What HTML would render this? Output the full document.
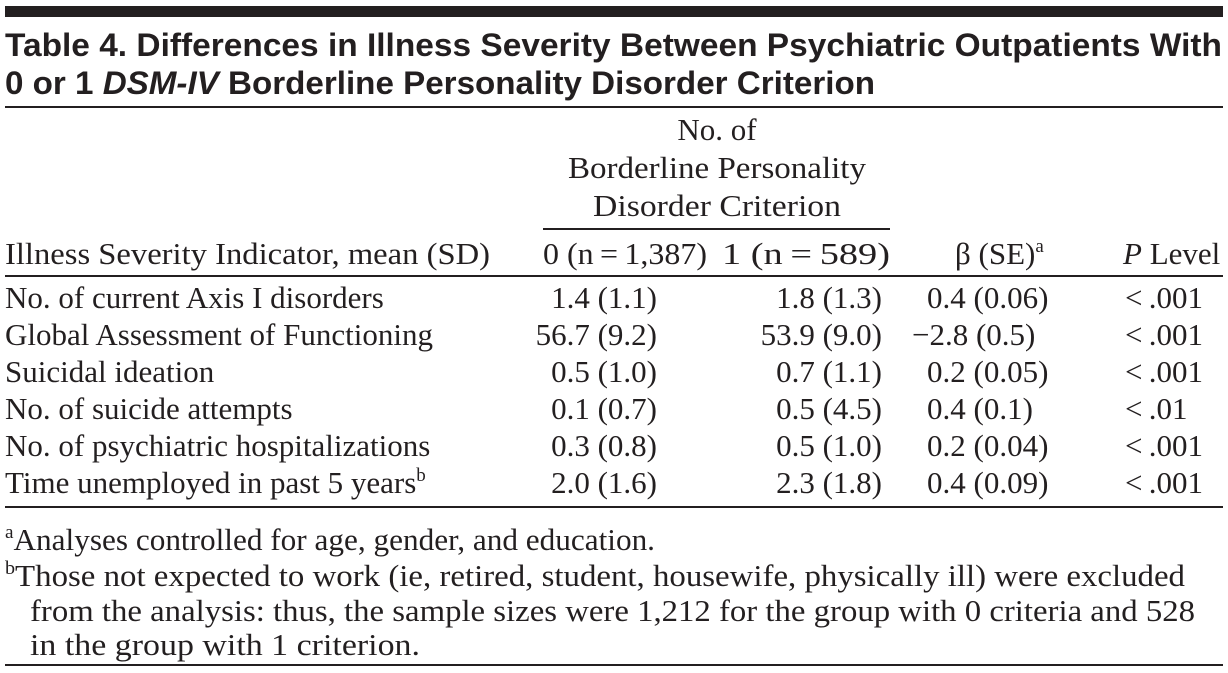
<!DOCTYPE html>
<html><head><meta charset="utf-8"><style>
html,body{margin:0;padding:0;background:#fff;}
svg{display:block;}
.t{font-family:"Liberation Sans",sans-serif;font-weight:bold;font-size:32px;fill:#231f20;}
.s{font-family:"Liberation Serif",serif;font-size:31px;fill:#231f20;}
</style></head><body>
<svg id="tbl" width="1228" height="673" viewBox="0 0 1228 673" xmlns="http://www.w3.org/2000/svg">
<rect x="5" y="6" width="1218" height="11" fill="#231f20"/>
<text class="t" x="5" y="56" textLength="1217" lengthAdjust="spacingAndGlyphs">Table 4. Differences in Illness Severity Between Psychiatric Outpatients With</text>
<text class="t" x="5" y="94" textLength="870" lengthAdjust="spacingAndGlyphs">0 or 1 <tspan font-style="italic">DSM-IV</tspan> Borderline Personality Disorder Criterion</text>
<rect x="5" y="106" width="1218" height="2" fill="#231f20"/>
<text class="s" x="717" y="140" text-anchor="middle">No. of</text>
<text class="s" x="717" y="178" text-anchor="middle" textLength="298" lengthAdjust="spacingAndGlyphs">Borderline Personality</text>
<text class="s" x="717" y="216" text-anchor="middle" textLength="248" lengthAdjust="spacingAndGlyphs">Disorder Criterion</text>
<rect x="543" y="228" width="347" height="2" fill="#231f20"/>
<text class="s" x="5" y="264" textLength="485" lengthAdjust="spacingAndGlyphs">Illness Severity Indicator, mean (SD)</text>
<text class="s" x="543" y="264" textLength="164" lengthAdjust="spacingAndGlyphs">0 (n&#8201;=&#8201;1,387)</text>
<text class="s" x="722" y="264" textLength="168" lengthAdjust="spacingAndGlyphs">1 (n&#8201;=&#8201;589)</text>
<text class="s" x="955" y="264">β (SE)<tspan font-size="19" dy="-12">a</tspan></text>
<text class="s" x="1123" y="264"><tspan font-style="italic">P</tspan> Level</text>
<rect x="5" y="275" width="1218" height="2" fill="#231f20"/>
<g id="rows"></g>
<rect x="5" y="506" width="1218" height="2" fill="#231f20"/>
<text class="s" x="5" y="550" textLength="650" lengthAdjust="spacingAndGlyphs"><tspan font-size="19" dy="-12">a</tspan><tspan dy="12">Analyses controlled for age, gender, and education.</tspan></text>
<text class="s" x="5" y="586" textLength="1180" lengthAdjust="spacingAndGlyphs"><tspan font-size="19" dy="-12">b</tspan><tspan dy="12">Those not expected to work (ie, retired, student, housewife, physically ill) were excluded</tspan></text>
<text class="s" x="30" y="621" textLength="1165" lengthAdjust="spacingAndGlyphs">from the analysis: thus, the sample sizes were 1,212 for the group with 0 criteria and 528</text>
<text class="s" x="30" y="655" textLength="390" lengthAdjust="spacingAndGlyphs">in the group with 1 criterion.</text>
<rect x="5" y="664" width="1218" height="2" fill="#231f20"/>
</svg>
<script>
const indicators=["No. of current Axis I disorders","Global Assessment of Functioning","Suicidal ideation","No. of suicide attempts","No. of psychiatric hospitalizations","Time unemployed in past 5 years"];
const group0=["1.4 (1.1)","56.7 (9.2)","0.5 (1.0)","0.1 (0.7)","0.3 (0.8)","2.0 (1.6)"];
const group1=["1.8 (1.3)","53.9 (9.0)","0.7 (1.1)","0.5 (4.5)","0.5 (1.0)","2.3 (1.8)"];
const betas=["0.4 (0.06)","\u22122.8 (0.5)","0.2 (0.05)","0.4 (0.1)","0.2 (0.04)","0.4 (0.09)"];
const pLevels=["<.001","<.001","<.001","<.01","<.001","<.001"];
const NS="http://www.w3.org/2000/svg";
const g=document.getElementById('rows');
function txt(s,x,y,anchor,name){
  const t=document.createElementNS(NS,'text');
  t.setAttribute('class','s');
  t.setAttribute('x',x);t.setAttribute('y',y);
  if(anchor)t.setAttribute('text-anchor',anchor);
  
  
  t.textContent=s;g.appendChild(t);return t;
}
indicators.forEach((lab,i)=>{
  const y=308+i*37;
  const l=txt(lab,5,y,null,'row-label');
  if(i===5){const sp=document.createElementNS(NS,'tspan');sp.setAttribute('font-size','19');sp.setAttribute('dy','-12');sp.textContent='b';l.appendChild(sp);}
  txt(group0[i],657,y,'end','group0-value');
  txt(group1[i],882,y,'end','group1-value');
  const b=betas[i];
  txt(b,b.startsWith('\u2212')?912:927,y,null,'beta-value');
  txt(pLevels[i].replace('<','<\u2009'),1125,y,null,'p-value');
});
</script>
</body></html>
